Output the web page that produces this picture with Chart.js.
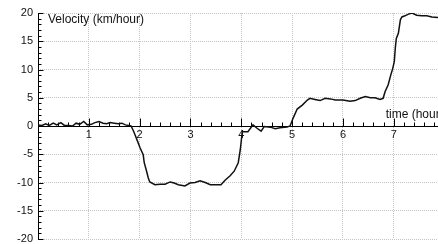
<!DOCTYPE html>
<html>
<head>
<meta charset="utf-8">
<script src="https://cdn.jsdelivr.net/npm/chart.js@4"></script>
<style>
html,body{margin:0;padding:0;background:#fff;}
canvas{display:block;}
</style>
</head>
<body>
<canvas id="c" width="438" height="244"></canvas>
<script>
const time = [0,0.08,0.15,0.22,0.3,0.37,0.45,0.52,0.6,0.68,0.75,0.82,0.9,0.97,1.05,1.12,1.2,1.28,1.35,1.42,1.5,1.58,1.65,1.72,1.78,1.83,
  1.87,1.91,1.95,2.01,2.07,2.09,2.13,2.17,2.20,2.30,2.40,2.50,2.60,2.68,2.76,2.89,2.99,3.09,3.19,3.29,3.39,3.60,3.68,3.78,3.86,3.94,3.98,4.02,4.04,4.13,4.23,4.31,4.39,4.45,4.57,4.67,4.76,4.90,4.96,
  5.02,5.10,5.20,5.30,5.35,5.45,5.55,5.65,5.75,5.85,6.00,6.14,6.24,6.34,6.44,6.54,6.63,6.73,6.79,6.83,6.89,6.94,6.98,7.01,7.03,7.05,7.09,7.13,7.16,7.22,7.29,7.36,7.45,7.55,7.65,7.75,7.87];
const velocity = [0.2,0.1,0.4,0.1,0.5,0.2,0.6,0.1,0.1,0.0,0.5,0.3,0.8,0.2,0.3,0.6,0.8,0.5,0.4,0.6,0.5,0.4,0.5,0.2,0.1,0.0,
  -0.7,-1.6,-2.5,-3.9,-5.1,-6.5,-7.8,-9.2,-9.9,-10.4,-10.3,-10.3,-9.9,-10.1,-10.4,-10.6,-10.1,-10.0,-9.7,-10.0,-10.4,-10.4,-9.6,-8.8,-8.0,-6.5,-4.2,-0.9,-1.0,-1.0,0.2,-0.4,-0.9,-0.1,-0.2,-0.5,-0.3,-0.2,0.0,
  1.4,3.0,3.7,4.6,4.9,4.7,4.5,4.9,4.8,4.6,4.6,4.4,4.5,4.9,5.2,5.0,5.0,4.7,4.9,6.1,7.3,9.0,10.2,11.4,13.8,15.5,16.4,18.8,19.3,19.5,19.8,20.0,19.6,19.5,19.5,19.3,19.2];
const xTicks = [1,2,3,4,5,6,7];
const yTicks = [-20,-15,-10,-5,0,5,10,15,20];
const yTitle = 'Velocity (km/hour)';
const xTitle = 'time (hours)';

const FONT = '"Liberation Sans", Arial, sans-serif';

const axesPlugin = {
  id: 'axesPlugin',
  beforeDatasetsDraw(chart) {
    const ctx = chart.ctx, xs = chart.scales.x, ys = chart.scales.y, a = chart.chartArea;
    ctx.save();
    ctx.strokeStyle = '#000';
    ctx.lineWidth = 1;
    const y0 = Math.round(ys.getPixelForValue(0)) + 0.5;
    const xl = Math.round(a.left) + 0.5;
    ctx.beginPath();
    ctx.moveTo(xl, Math.round(a.top)); ctx.lineTo(xl, Math.round(a.bottom) + 1);
    ctx.moveTo(a.left, y0); ctx.lineTo(a.right, y0);
    for (let v = -20; v <= 20; v++) {
      const p = Math.round(ys.getPixelForValue(v)) + 0.5;
      const len = (v % 5 === 0) ? 5 : 3;
      ctx.moveTo(xl, p); ctx.lineTo(xl + len, p);
    }
    for (let i = 1; i * 0.2 <= xs.max + 1e-9; i++) {
      const t = i * 0.2;
      const p = Math.round(xs.getPixelForValue(t)) + 0.5;
      const len = (i % 5 === 0) ? 8 : 4;
      ctx.moveTo(p, y0); ctx.lineTo(p, y0 - len);
    }
    ctx.stroke();
    ctx.fillStyle = '#111';
    ctx.font = '12px ' + FONT;
    ctx.textBaseline = 'alphabetic';
    ctx.textAlign = 'left';
    ctx.fillText(yTitle, a.left + 10, a.top + 10);
    ctx.fillText(xTitle, xs.getPixelForValue(6.84), y0 - 9);
    ctx.restore();
  }
};

new Chart(document.getElementById('c'), {
  type: 'line',
  data: {
    datasets: [{
      data: time.map((t, i) => ({x: t, y: velocity[i]})),
      borderColor: '#111',
      borderWidth: 1.5,
      pointRadius: 0,
      tension: 0,
      fill: false
    }]
  },
  options: {
    responsive: false,
    animation: false,
    devicePixelRatio: 1,
    layout: {padding: {top: 13, bottom: 5, left: 0, right: 0}},
    plugins: {legend: {display: false}, tooltip: {enabled: false}},
    scales: {
      x: {
        type: 'linear',
        position: {y: 0},
        min: 0, max: 7.87,
        afterBuildTicks: s => { s.ticks = xTicks.map(v => ({value: v})); },
        afterFit: s => { s.paddingLeft = 0; s.paddingRight = 0; },
        ticks: {
          padding: 2,
          color: '#111',
          font: {family: FONT, size: 11},
          maxRotation: 0,
          autoSkip: false,
          callback: v => String(v)
        },
        grid: {drawTicks: false, color: '#c4c4c4', lineWidth: 1},
        border: {display: false, dash: [1, 1]}
      },
      y: {
        type: 'linear',
        min: -20, max: 20,
        afterBuildTicks: s => { s.ticks = yTicks.map(v => ({value: v})); },
        afterFit: s => { s.width = 38; s.paddingTop = 0; s.paddingBottom = 0; },
        ticks: {
          padding: 5,
          color: '#111',
          font: {family: FONT, size: 11},
          callback: v => String(v)
        },
        grid: {drawTicks: false, color: '#c4c4c4', lineWidth: 1},
        border: {display: false, dash: [1, 1]}
      }
    }
  },
  plugins: [axesPlugin]
});
</script>
</body>
</html>
